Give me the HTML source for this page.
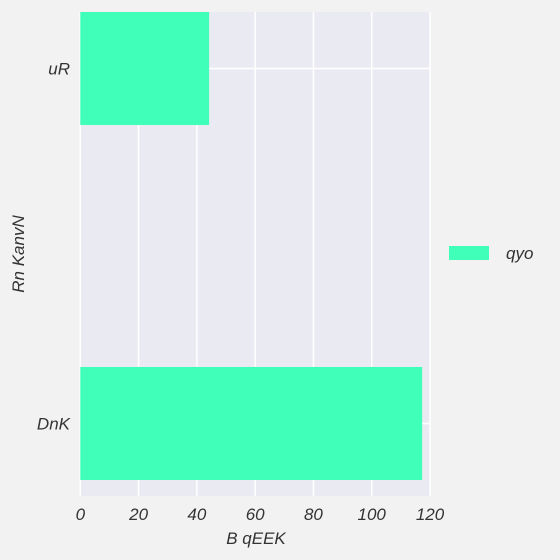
<!DOCTYPE html>
<html><head><meta charset="utf-8"><style>
body{margin:0;background:#f2f2f2;}
svg{display:block;font-family:"Liberation Sans",sans-serif;font-style:italic;}
</style></head><body>
<svg id="chart" width="560" height="560">
<rect x="0" y="0" width="560" height="560" fill="#f2f2f2"/>
<rect x="80" y="12" width="350" height="484" fill="#eaeaf2"/>
<g id="grid"></g><g id="bars"></g><g id="labels"></g>
<text x="256" y="544" text-anchor="middle" font-size="17" fill="#333">B qEEK</text>
<text transform="translate(24,254) rotate(-90)" text-anchor="middle" font-size="17" fill="#333">Rn KanvN</text>
<rect x="449" y="246" width="40" height="14" fill="#3fffb9"/>
<text x="506" y="259" font-size="17" fill="#333">qyo</text>
</svg>
<script>
const categories=["uR","DnK"];
const values=[44.2,117.3];
const xTicks=[0,20,40,60,80,100,120];
const NS="http://www.w3.org/2000/svg";
const x=v=>80.3+v*(430-80.3)/120;
const y=i=>68.5+i*355;
const barH=113;
function mk(t,a,p){const e=document.createElementNS(NS,t);for(const k in a)e.setAttribute(k,a[k]);document.getElementById(p).appendChild(e);return e;}
xTicks.forEach(t=>{
 const l=mk('line',{x1:x(t),x2:x(t),y1:12,y2:496,stroke:'#fff','stroke-width':1.5},'grid');
 
 
 const tx=mk('text',{x:x(t),y:520,'text-anchor':'middle','font-size':17,fill:'#333'},'labels');
 tx.textContent=t;
 
 
});
categories.forEach((c,i)=>{
 const l=mk('line',{x1:80,x2:430,y1:y(i),y2:y(i),stroke:'#fff','stroke-width':1.5},'grid');
 
 
 const r=mk('rect',{x:x(0),y:y(i)-barH/2,width:x(values[i])-x(0),height:barH,fill:'#3fffb9'},'bars');
 
 
 const tx=mk('text',{x:70,y:y(i)+6,'text-anchor':'end','font-size':17,fill:'#333'},'labels');
 tx.textContent=c;
 
 
});
</script>
</body></html>
